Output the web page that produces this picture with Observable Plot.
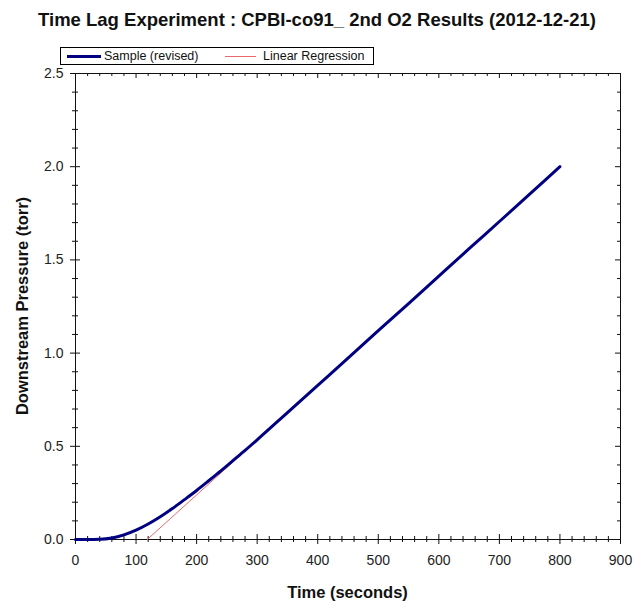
<!DOCTYPE html>
<html>
<head>
<meta charset="utf-8">
<script src="https://cdn.jsdelivr.net/npm/d3@7"></script>
<script src="https://cdn.jsdelivr.net/npm/@observablehq/plot@0.6"></script>
<style>
  body { margin: 0; background: #fff; font-family: "Liberation Sans", Arial, Helvetica, sans-serif; }
  #wrap { position: relative; width: 634px; height: 602px; overflow: hidden; }
  #title { position: absolute; left: 0; top: 9px; width: 634px; text-align: center; font-weight: bold; font-size: 18.5px; color: #111; }
  #legend { position: absolute; left: 60px; top: 47px; width: 314px; height: 18px; border: 1px solid #000; box-sizing: border-box; font-size: 12.5px; color: #111; }
  #legend .sw { position: absolute; }
  #legend .lb { position: absolute; top: 1px; }
  #chart { position: absolute; left: 0; top: 66px; }
  #xlabel { position: absolute; left: 75px; width: 545px; top: 583px; text-align: center; font-weight: bold; font-size: 16.5px; color: #111; }
  #ylabel { position: absolute; left: 22px; top: 306px; transform: translate(-50%, -50%) rotate(-90deg); white-space: nowrap; font-weight: bold; font-size: 16.5px; color: #111; }
</style>
</head>
<body>
<div id="wrap">
  <div id="title"></div>
  <div id="legend">
    <div class="sw" style="left:6px; top:7px; width:34px; height:3px; background:#000080;"></div>
    <div class="lb" id="leg1" style="left:43px;"></div>
    <div class="sw" style="left:164px; top:8px; width:31px; height:1px; background:#ee6a6a;"></div>
    <div class="lb" id="leg2" style="left:202px;"></div>
  </div>
  <div id="chart"></div>
  <div id="xlabel"></div>
  <div id="ylabel"></div>
</div>
<script>
// ---- text ----
const titleText = "Time Lag Experiment : CPBI-co91_ 2nd O2 Results (2012-12-21)";
const xLabel = "Time (seconds)";
const yLabel = "Downstream Pressure (torr)";
const seriesNames = ["Sample (revised)", "Linear Regression"];

// ---- ticks ----
const xTicks = [0, 100, 200, 300, 400, 500, 600, 700, 800, 900];
const yTicks = [0.0, 0.5, 1.0, 1.5, 2.0, 2.5];
const xMinorStep = 20;
const yMinorStep = 0.1;

// ---- sample data (time s, pressure torr) ----
const sampleTime = [0, 20, 40, 60, 80, 100, 120, 140, 160, 180, 200, 220, 240, 260, 280, 300,
                    350, 400, 450, 500, 550, 600, 650, 700, 750, 800];
const samplePressure = [0.000, 0.000, 0.001, 0.008, 0.025, 0.050, 0.083, 0.122, 0.166, 0.214, 0.263, 0.315, 0.368, 0.423, 0.478, 0.535,
                        0.681, 0.827, 0.973, 1.120, 1.266, 1.413, 1.560, 1.706, 1.853, 2.000];

// ---- linear regression line ----
const regTime = [118.5, 800];
const regPressure = [0.000, 2.000];

document.getElementById("title").textContent = titleText;
document.getElementById("xlabel").textContent = xLabel;
document.getElementById("ylabel").textContent = yLabel;
document.getElementById("leg1").textContent = seriesNames[0];
document.getElementById("leg2").textContent = seriesNames[1];

const sample = sampleTime.map((t, i) => ({t, p: samplePressure[i]}));
const reg = regTime.map((t, i) => ({t, p: regPressure[i]}));

const xMinor = d3.range(0, 901, xMinorStep).filter(v => !xTicks.includes(v));
const yMinor = d3.range(0, 26).map(i => Math.round(i * yMinorStep * 10) / 10).filter(v => !yTicks.includes(v));

const xMax = xTicks[xTicks.length - 1];
const yMax = yTicks[yTicks.length - 1];
const ink = "#111";

const chart = Plot.plot({
  width: 634,
  height: 536,
  marginTop: 7,
  marginBottom: 63,
  marginLeft: 75,
  marginRight: 14,
  style: {fontFamily: "'Liberation Sans', Arial, sans-serif", fontSize: "14px", color: "#222", background: "#fff"},
  x: {domain: [0, xMax], ticks: xTicks, tickSize: 0, tickPadding: 16, tickFormat: d3.format("d"), label: null},
  y: {domain: [0, yMax], ticks: yTicks, tickSize: 0, tickPadding: 12, tickFormat: d3.format(".1f"), label: null},
  marks: [
    Plot.frame({stroke: ink}),
    // bottom ticks (crossing)
    Plot.ruleX(xTicks, {x: d => d, y1: () => 0, y2: () => 0, insetTop: 5, insetBottom: 5, stroke: ink}),
    Plot.ruleX(xMinor, {x: d => d, y1: () => 0, y2: () => 0, insetTop: 3, insetBottom: 3, stroke: ink}),
    // top ticks (inward)
    Plot.ruleX(xTicks, {x: d => d, y1: () => yMax, y2: () => yMax, insetTop: 5, insetBottom: 0, stroke: ink}),
    Plot.ruleX(xMinor, {x: d => d, y1: () => yMax, y2: () => yMax, insetTop: 3, insetBottom: 0, stroke: ink}),
    // left ticks (crossing)
    Plot.ruleY(yTicks, {y: d => d, x1: () => 0, x2: () => 0, insetLeft: 5, insetRight: 5, stroke: ink}),
    Plot.ruleY(yMinor, {y: d => d, x1: () => 0, x2: () => 0, insetLeft: 3, insetRight: 3, stroke: ink}),
    // right ticks (inward)
    Plot.ruleY(yTicks, {y: d => d, x1: () => xMax, x2: () => xMax, insetLeft: 0, insetRight: 5, stroke: ink}),
    Plot.ruleY(yMinor, {y: d => d, x1: () => xMax, x2: () => xMax, insetLeft: 0, insetRight: 3, stroke: ink}),
    Plot.line(reg, {x: "t", y: "p", stroke: "#ee6a6a", strokeWidth: 1}),
    Plot.line(sample, {x: "t", y: "p", stroke: "#000080", strokeWidth: 3, curve: "monotone-x"})
  ]
});
document.getElementById("chart").appendChild(chart);
</script>
</body>
</html>
